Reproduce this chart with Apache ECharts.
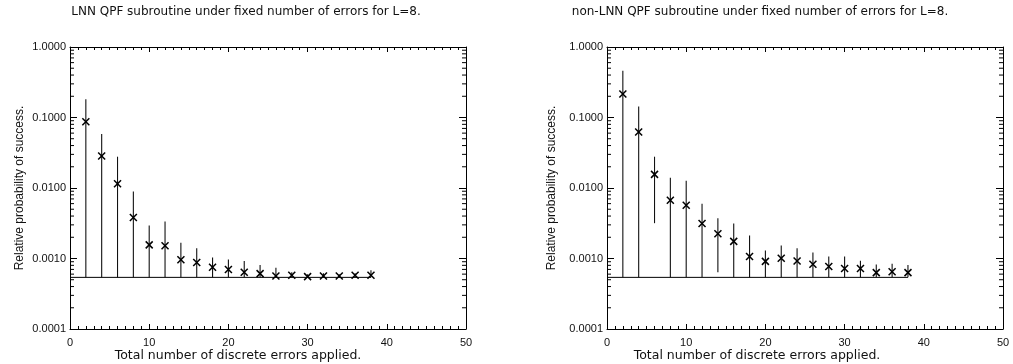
<!DOCTYPE html>
<html>
<head>
<meta charset="utf-8">
<script src="https://cdn.jsdelivr.net/npm/echarts@6/dist/echarts.min.js"></script>
<style>
html,body{margin:0;padding:0;background:#fff;}
#chart{width:1013px;height:364px;}
</style>
</head>
<body>
<div id="chart"></div>
<script>
// ---- data ----
const errorsApplied = [2,4,6,8,10,12,14,16,18,20,22,24,26,28,30,32,34,36,38];

const lnnMean  = [0.087, 0.0284, 0.0115, 0.00381, 0.00156, 0.00152, 0.00096, 0.00088, 0.00075, 0.00070,
                  0.00064, 0.00061, 0.000564, 0.000577, 0.000553, 0.000564, 0.000564, 0.000577, 0.000577];
const lnnUpper = [0.182, 0.0582, 0.0278, 0.0089, 0.00294, 0.00335, 0.00167, 0.0014, 0.00103, 0.00097,
                  0.00092, 0.00081, 0.00074, 0.00064, 0.00060, 0.00062, 0.00060, 0.00062, 0.00068];
const lnnLower = [0.00054, 0.00054, 0.00054, 0.00054, 0.00054, 0.00054, 0.00054, 0.00054, 0.00054, 0.00054,
                  0.00054, 0.00054, 0.00054, 0.00054, 0.00054, 0.00054, 0.00054, 0.00054, 0.00054];

const nonMean  = [0.216, 0.0621, 0.0156, 0.0067, 0.0057, 0.00314, 0.00224, 0.00175, 0.00107, 0.00091,
                  0.00101, 0.00092, 0.00083, 0.00077, 0.00072, 0.00072, 0.00063, 0.00065, 0.00063];
const nonUpper = [0.462, 0.143, 0.0278, 0.0140, 0.0127, 0.0060, 0.00373, 0.00314, 0.00212, 0.0013,
                  0.00153, 0.0014, 0.00122, 0.00107, 0.00107, 0.00093, 0.00082, 0.00084, 0.00081];
const nonLower = [0.00054, 0.00054, 0.00317, 0.00054, 0.00054, 0.00054, 0.00064, 0.00054, 0.00054, 0.00054,
                  0.00054, 0.00054, 0.00054, 0.00054, 0.00054, 0.00054, 0.00054, 0.00054, 0.00054];

const baselineX = [0, 38];
const baselineY = 0.00054;

const xTickMin = 0, xTickMax = 50, xTickStep = 10;
const yTickMin = 0.0001, yTickMax = 1;
const logMinorMultipliers = [2,3,4,5,6,7,8,9];
const decadeStarts = [0.0001, 0.001, 0.01, 0.1];

const titles = [
  'LNN QPF subroutine under fixed number of errors for L=8.',
  'non-LNN QPF subroutine under fixed number of errors for L=8.'
];
const xName = 'Total number of discrete errors applied.';
const yName = 'Relative probability of success.';

// ---- chart ----
const FONT = 'Liberation Sans, Arial, Helvetica, sans-serif';
const WFONT = 'DejaVu Sans, Verdana, sans-serif';
const FS = 11;
const TXT = '#111';

const grids = [
  {left: 70, right: 547, top: 47, bottom: 35},
  {left: 607, right: 10, top: 47, bottom: 35}
];

function xAxisFor(g, pos) {
  return {
    type: 'value', gridIndex: g, position: pos,
    min: xTickMin, max: xTickMax, interval: xTickStep,
    axisLine: {show: true, onZero: false, lineStyle: {color: '#000', width: 1}},
    axisTick: {show: true, inside: true, length: 5, lineStyle: {color: '#000'}},
    minorTick: {show: true, splitNumber: 10, length: 3, lineStyle: {color: '#000'}},
    splitLine: {show: false},
    axisLabel: {show: pos === 'bottom', color: TXT, fontFamily: FONT, fontSize: FS, margin: 8}
  };
}
function yAxisFor(g, pos) {
  return {
    type: 'log', logBase: 10, gridIndex: g, position: pos,
    min: yTickMin, max: yTickMax,
    axisLine: {show: true, onZero: false, lineStyle: {color: '#000', width: 1}},
    axisTick: {show: true, inside: true, length: 7, lineStyle: {color: '#000'}},
    splitLine: {show: false},
    axisLabel: {show: pos === 'left', color: TXT, fontFamily: FONT, fontSize: FS, margin: 4,
      formatter: v => Number(v).toFixed(4)}
  };
}

const minorVals = [];
decadeStarts.forEach(d => logMinorMultipliers.forEach(m => minorVals.push([m * d])));

function minorTickSeries(g) {
  return {
    type: 'custom', xAxisIndex: g * 2, yAxisIndex: g * 2, clip: false, silent: true,
    data: minorVals,
    encode: {y: 0},
    renderItem: function (params, api) {
      const v = api.value(0);
      const l = api.coord([xTickMin, v]);
      const r = api.coord([xTickMax, v]);
      return {type: 'group', children: [
        {type: 'line', shape: {x1: l[0], y1: l[1], x2: l[0] + 4, y2: l[1]}, style: {stroke: '#000', lineWidth: 1}},
        {type: 'line', shape: {x1: r[0], y1: r[1], x2: r[0] - 4, y2: r[1]}, style: {stroke: '#000', lineWidth: 1}}
      ]};
    }
  };
}

function errorBarSeries(g, lower, upper) {
  return {
    type: 'custom', xAxisIndex: g * 2, yAxisIndex: g * 2, silent: true,
    data: errorsApplied.map((x, i) => [x, lower[i], upper[i]]),
    encode: {x: 0, y: [1, 2]},
    renderItem: function (params, api) {
      const lo = api.coord([api.value(0), api.value(1)]);
      const hi = api.coord([api.value(0), api.value(2)]);
      return {type: 'line', shape: {x1: lo[0], y1: lo[1], x2: hi[0], y2: hi[1]},
        style: {stroke: '#111', lineWidth: 1.1}};
    }
  };
}

function markerSeries(g, mean) {
  return {
    type: 'custom', xAxisIndex: g * 2, yAxisIndex: g * 2, silent: true, z: 5,
    data: errorsApplied.map((x, i) => [x, mean[i]]),
    encode: {x: 0, y: 1},
    renderItem: function (params, api) {
      const p = api.coord([api.value(0), api.value(1)]);
      const s = 3.5;
      return {type: 'group', children: [
        {type: 'line', shape: {x1: p[0] - s, y1: p[1] - s, x2: p[0] + s, y2: p[1] + s}, style: {stroke: '#000', lineWidth: 1.5}},
        {type: 'line', shape: {x1: p[0] - s, y1: p[1] + s, x2: p[0] + s, y2: p[1] - s}, style: {stroke: '#000', lineWidth: 1.5}}
      ]};
    }
  };
}

function baselineSeries(g) {
  return {
    type: 'line', xAxisIndex: g * 2, yAxisIndex: g * 2, silent: true,
    data: baselineX.map(x => [x, baselineY]),
    showSymbol: false, symbol: 'none',
    lineStyle: {color: '#000', width: 1}
  };
}

function txt(text, x, y, font, rot) {
  return {type: 'text', x: x, y: y, rotation: rot || 0,
    style: {text: text, fill: TXT, font: font, textAlign: 'center', textVerticalAlign: 'middle'}};
}

const option = {
  animation: false,
  backgroundColor: '#fff',
  grid: grids,
  xAxis: [xAxisFor(0, 'bottom'), xAxisFor(0, 'top'), xAxisFor(1, 'bottom'), xAxisFor(1, 'top')],
  yAxis: [yAxisFor(0, 'left'), yAxisFor(0, 'right'), yAxisFor(1, 'left'), yAxisFor(1, 'right')],
  series: [
    minorTickSeries(0), minorTickSeries(1),
    baselineSeries(0), baselineSeries(1),
    errorBarSeries(0, lnnLower, lnnUpper), errorBarSeries(1, nonLower, nonUpper),
    markerSeries(0, lnnMean), markerSeries(1, nonMean)
  ],
  graphic: [
    txt(titles[0], 246, 12, '12px ' + WFONT),
    txt(titles[1], 760, 12, '12px ' + WFONT),
    txt(xName, 238, 356, '12.5px ' + WFONT),
    txt(xName, 757, 356, '12.5px ' + WFONT),
    txt(yName, 20, 188, '12px ' + FONT, Math.PI / 2),
    txt(yName, 552, 188, '12px ' + FONT, Math.PI / 2)
  ]
};

const chart = echarts.init(document.getElementById('chart'), null, {renderer: 'canvas'});
chart.setOption(option);
</script>
</body>
</html>
